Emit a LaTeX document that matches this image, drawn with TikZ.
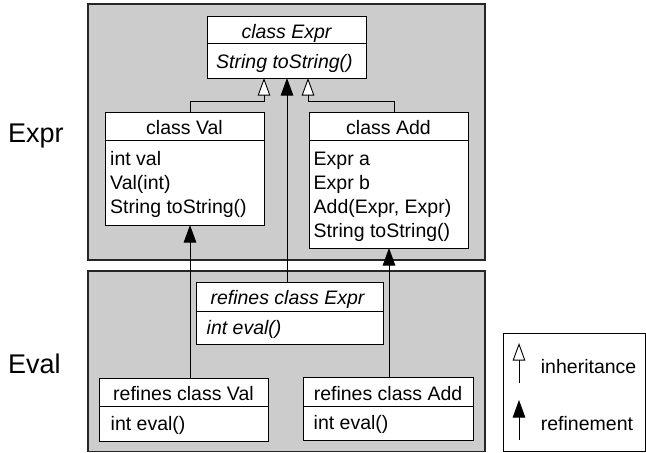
\documentclass[tikz,border=0pt]{standalone}
\usepackage{fontspec}
\setmainfont{Liberation Sans}
\usetikzlibrary{arrows.meta}
\begin{document}
\begin{tikzpicture}[x=1pt,y=-1pt,
  layer/.style={draw=black!85, line width=1.1pt, fill=gray!40, inner sep=0pt, outer sep=0pt},
  cls/.style={draw=black, fill=white, line width=0.9pt, inner sep=0pt, outer sep=0pt},
  legendbox/.style={draw=black, fill=white, line width=0.9pt, inner sep=0pt, outer sep=0pt},
  divider/.style={draw=black, line width=0.9pt},
  txt/.style={font=\fontsize{19.5}{23.5}\selectfont, inner sep=0pt, anchor=base west},
  hdr/.style={font=\fontsize{19.5}{23.5}\selectfont, inner sep=0pt, anchor=base},
  big/.style={font=\fontsize{27}{30}\selectfont, inner sep=0pt, anchor=base west},
  inherit/.style={line width=0.9pt, -{Triangle[width=12.5pt, length=17.5pt, fill=white, line width=0.9pt]}},
  refine/.style={line width=0.9pt, -{Triangle[width=12.5pt, length=17.5pt]}},
]
\useasboundingbox (0,0) rectangle (646,453);
\fill[white] (0,0) rectangle (646,453);

% layers
\node[layer, minimum width=397pt, minimum height=256pt] (exprlayer) at (286.5,132) {};
\node[layer, minimum width=397pt, minimum height=180.5pt] (evallayer) at (286.5,361.25) {};
\node[big] (exprlabel) at (8,142) {Expr};
\node[big] (evallabel) at (8,373) {Eval};

% class Expr
\node[cls, minimum width=159pt, minimum height=62pt] (expr) at (286.5,47) {};
\draw[divider] (expr.west |- 0,43) -- (expr.east |- 0,43);
\node[hdr, font=\fontsize{19.5}{23.5}\selectfont\itshape] (exprh) at (286.5,38) {class Expr};
\node[txt, font=\fontsize{19.5}{23.5}\selectfont\itshape] (exprb) at (216,68) {String toString()};

% class Val
\node[cls, minimum width=159pt, minimum height=113pt] (val) at (184.5,168.5) {};
\draw[divider] (val.west |- 0,140) -- (val.east |- 0,140);
\node[hdr] (valh) at (184.5,134) {class Val};
\node[txt] (valb1) at (110,165) {int val};
\node[txt] (valb2) at (110,189) {Val(int)};
\node[txt] (valb3) at (110,213) {String toString()};

% class Add
\node[cls, minimum width=159pt, minimum height=136pt] (add) at (388.5,180) {};
\draw[divider] (add.west |- 0,140) -- (add.east |- 0,140);
\node[hdr] (addh) at (388.5,134) {class Add};
\node[txt] (addb1) at (313.5,165) {Expr a};
\node[txt] (addb2) at (313.5,189) {Expr b};
\node[txt] (addb3) at (313.5,213) {Add(Expr, Expr)};
\node[txt] (addb4) at (313.5,237) {String toString()};

% refines class Expr
\node[cls, minimum width=187pt, minimum height=62pt] (refexpr) at (289.5,313) {};
\draw[divider] (refexpr.west |- 0,311) -- (refexpr.east |- 0,311);
\node[hdr, font=\fontsize{19.5}{23.5}\selectfont\itshape] (refexprh) at (287.5,304.5) {refines class Expr};
\node[txt, font=\fontsize{19.5}{23.5}\selectfont\itshape] (refexprb) at (206.5,334) {int eval()};

% refines class Val
\node[cls, minimum width=169pt, minimum height=63pt] (refval) at (183.5,409.5) {};
\draw[divider] (refval.west |- 0,406.5) -- (refval.east |- 0,406.5);
\node[hdr] (refvalh) at (183.5,400.5) {refines class Val};
\node[txt] (refvalb) at (110.5,430) {int eval()};

% refines class Add
\node[cls, minimum width=170pt, minimum height=63pt] (refadd) at (388,409) {};
\draw[divider] (refadd.west |- 0,406.5) -- (refadd.east |- 0,406.5);
\node[hdr] (refaddh) at (388,400.5) {refines class Add};
\node[txt] (refaddb) at (313.5,429.5) {int eval()};

% connectors
\draw[inherit] ([xshift=5.5pt]val.north) |- ([xshift=-22.5pt,yshift=-23.5pt]expr.south) -- ([xshift=-22.5pt]expr.south);
\draw[inherit] ([xshift=5.5pt]add.north) |- ([xshift=21.5pt,yshift=-23.5pt]expr.south) -- ([xshift=21.5pt]expr.south);
\draw[refine] ([xshift=-2.5pt]refexpr.north) -- ([xshift=0.5pt]expr.south);
\draw[refine] ([xshift=6.5pt]refval.north) -- ([xshift=5.5pt]val.south);
\draw[refine] ([xshift=1pt]refadd.north) -- ([xshift=0.5pt]add.south);

% legend
\node[legendbox, minimum width=142pt, minimum height=118.5pt] (legend) at (574,392.25) {};
\coordinate (inhfrom) at (519,383);
\coordinate (inhto) at (519,343);
\coordinate (reffrom) at (519,440);
\coordinate (refto) at (519,400);
\draw[inherit] (inhfrom) -- (inhto);
\draw[refine] (reffrom) -- (refto);
\node[txt] (inhtext) at (540.7,373) {inheritance};
\node[txt] (reftext) at (540.7,430) {refinement};
\end{tikzpicture}
\end{document}
